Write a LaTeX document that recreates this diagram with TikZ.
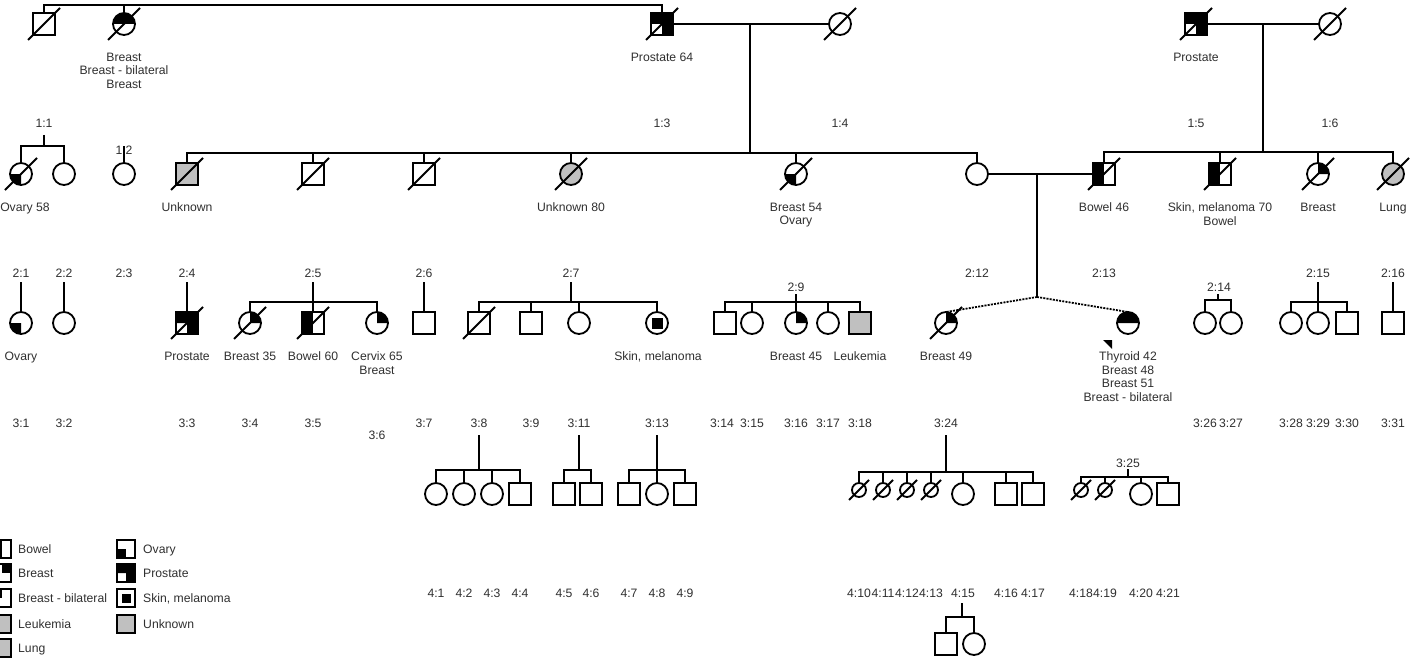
\documentclass[tikz,border=0pt]{standalone}
\usepackage{fontspec}
\setmainfont{Liberation Sans}
\definecolor{grey}{HTML}{C0C0C0}
\definecolor{txt}{HTML}{303030}
\tikzset{
  ind/.style={draw=black, line width=1.8pt, inner sep=0pt, outer sep=0pt, minimum size=22pt},
  male/.style={ind, rectangle},
  female/.style={ind, circle},
  tiny/.style={ind, circle, minimum size=14pt},
  aff/.style={fill=grey},
  ln/.style={line width=1.8pt},
  twin/.style={line width=1.8pt, dash pattern=on 2pt off 1.2pt},
  lbl/.style={font=\fontsize{12.2}{13.5}\selectfont, text=txt, align=center, inner sep=0pt},
  legbox/.style={draw=black, line width=1.8pt, inner sep=0pt, outer sep=0pt, minimum size=18pt, rectangle},
}
\newcommand\pdDec[1]{\draw[ln] ([shift={(-16,16)}]#1.center) -- ([shift={(16,-16)}]#1.center);}
\newcommand\pdDecS[1]{\draw[ln] ([shift={(-10,10)}]#1.center) -- ([shift={(10,-10)}]#1.center);}
\newcommand\pdTR[1]{\fill (#1.center) -- (#1.north) arc[start angle=90,end angle=0,radius=11pt] -- cycle;}
\newcommand\pdLL[1]{\fill (#1.center) -- (#1.west) arc[start angle=180,end angle=270,radius=11pt] -- cycle;}
\newcommand\pdTop[1]{\fill (#1.west) arc[start angle=180,end angle=0,radius=11pt] -- cycle;}
\newcommand\pdLeft[1]{\fill (#1.south west) rectangle (#1.north);}
\newcommand\pdPro[1]{\fill (#1.north west) -- (#1.north east) -- (#1.south east) -- (#1.south) -- (#1.center) -- (#1.west) -- cycle;}
\newcommand\pdLab[4]{\node[lbl,anchor=north,yshift=4.4pt] (#1) at (#2,#3) {#4};}
\newcommand\pdId[4]{\node[lbl,anchor=base,yshift=-4.4pt] (#1) at (#2,#3) {#4};}
\newcommand\pdLeg[4]{\node[lbl,anchor=base west,yshift=-4.4pt] (#1) at (#2,#3) {#4};}
\begin{document}
\begin{tikzpicture}[x=1pt,y=-1pt]
\useasboundingbox (0,0) rectangle (1411,666);
\clip (0,0) rectangle (1411,666);
\fill[white] (0,0) rectangle (1411,666);

% ---------- Generation 1
\node[male]   (a1) at (44,24) {};
\node[female] (a2) at (124,24) {};
\node[male]   (a3) at (662,24) {};
\node[female] (a4) at (840,24) {};
\node[male]   (a5) at (1196,24) {};
\node[female] (a6) at (1330,24) {};
\pdTop{a2} \pdPro{a3} \pdPro{a5}
\foreach \n in {a1,a2,a3,a4,a5,a6} {\pdDec{\n}}
\draw[ln] (a1.north) -- ++(0,-8) -| (a3.north);
\draw[ln] (a2.north) -- ++(0,-8);
\draw[ln] (a3.east) -- (a4.west);
\draw[ln] (a5.east) -- (a6.west);
\coordinate (m1) at (750,24);
\coordinate (m2) at (1263,24);
\pdLab{t1}{124}{57}{Breast\\Breast - bilateral\\Breast}
\pdLab{t2}{662}{57}{Prostate 64}
\pdLab{t3}{1196}{57}{Prostate}
\pdId{i11}{44}{123}{1:1}
\pdId{i12}{124}{150}{1:2}
\pdId{i13}{662}{123}{1:3}
\pdId{i14}{840}{123}{1:4}
\pdId{i15}{1196}{123}{1:5}
\pdId{i16}{1330}{123}{1:6}

% ---------- Generation 2
\node[female]     (b1) at (21,174) {};
\node[female]     (b2) at (64,174) {};
\node[female]     (b3) at (124,174) {};
\node[male,aff]   (b4) at (187,174) {};
\node[male]       (b5) at (313,174) {};
\node[male]       (b6) at (424,174) {};
\node[female,aff] (b7) at (571,174) {};
\node[female]     (b8) at (796,174) {};
\node[female]     (b9) at (977,174) {};
\node[male]       (b10) at (1104,174) {};
\node[male]       (b11) at (1220,174) {};
\node[female]     (b12) at (1318,174) {};
\node[female,aff] (b13) at (1393,174) {};
\pdLL{b1} \pdLL{b8} \pdLeft{b10} \pdLeft{b11} \pdTR{b12}
\foreach \n in {b1,b4,b5,b6,b7,b8,b10,b11,b12,b13} {\pdDec{\n}}
\coordinate (d11) at (44,135);
\draw[ln] (d11) -- ++(0,11);
\draw[ln] (b1.north) -- ++(0,-17) -| (b2.north);
\draw[ln] (b3.north) -- ++(0,-17);
\draw[ln] (b4.north) -- ++(0,-10) -| (b9.north);
\foreach \n in {b5,b6,b7,b8} {\draw[ln] (\n.north) -- ++(0,-10);}
\draw[ln] (m1) -- ++(0,129);
\draw[ln] (b10.north) -- ++(0,-11) -| (b13.north);
\foreach \n in {b11,b12} {\draw[ln] (\n.north) -- ++(0,-11);}
\draw[ln] (m2) -- ++(0,128);
\draw[ln] (b9.east) -- (b10.west);
\coordinate (m3) at (1037,174);
\coordinate (tw) at (1037,297);
\draw[ln] (m3) -- (tw);
\pdLab{u1}{25}{207}{Ovary 58}
\pdLab{u2}{187}{207}{Unknown}
\pdLab{u3}{571}{207}{Unknown 80}
\pdLab{u4}{796}{207}{Breast 54\\Ovary}
\pdLab{u5}{1104}{207}{Bowel 46}
\pdLab{u6}{1220}{207}{Skin, melanoma 70\\Bowel}
\pdLab{u7}{1318}{207}{Breast}
\pdLab{u8}{1393}{207}{Lung}
\pdId{i21}{21}{273}{2:1}
\pdId{i22}{64}{273}{2:2}
\pdId{i23}{124}{273}{2:3}
\pdId{i24}{187}{273}{2:4}
\pdId{i25}{313}{273}{2:5}
\pdId{i26}{424}{273}{2:6}
\pdId{i27}{571}{273}{2:7}
\pdId{i29}{796}{287}{2:9}
\pdId{i212}{977}{273}{2:12}
\pdId{i213}{1104}{273}{2:13}
\pdId{i214}{1219}{287}{2:14}
\pdId{i215}{1318}{273}{2:15}
\pdId{i216}{1393}{273}{2:16}

% ---------- Generation 3
\node[female]   (c1) at (21,323) {};
\node[female]   (c2) at (64,323) {};
\node[male]     (c3) at (187,323) {};
\node[female]   (c4) at (250,323) {};
\node[male]     (c5) at (313,323) {};
\node[female]   (c6) at (377,323) {};
\node[male]     (c7) at (424,323) {};
\node[male]     (c8) at (479,323) {};
\node[male]     (c9) at (531,323) {};
\node[female]   (c10) at (579,323) {};
\node[female]   (c11) at (657,323) {};
\node[male]     (c12) at (725,323) {};
\node[female]   (c13) at (752,323) {};
\node[female]   (c14) at (796,323) {};
\node[female]   (c15) at (828,323) {};
\node[male,aff] (c16) at (860,323) {};
\node[female]   (c17) at (946,323) {};
\node[female]   (c18) at (1128,323) {};
\node[female]   (c19) at (1205,323) {};
\node[female]   (c20) at (1231,323) {};
\node[female]   (c21) at (1291,323) {};
\node[female]   (c22) at (1318,323) {};
\node[male]     (c23) at (1347,323) {};
\node[male]     (c24) at (1393,323) {};
\pdLL{c1} \pdPro{c3} \pdTR{c4} \pdLeft{c5} \pdTR{c6} \pdTR{c14} \pdTR{c17} \pdTop{c18}
\fill ([shift={(-5.5,5.5)}]c11.center) rectangle ([shift={(5.5,-5.5)}]c11.center);
\foreach \n in {c3,c4,c5,c8,c17} {\pdDec{\n}}
\fill ([shift={(-25,17)}]c18.center) -- ([shift={(-16,17)}]c18.center) -- ([shift={(-16,26)}]c18.center) -- cycle;
\foreach \n in {c1,c2,c3,c5,c7,c22,c24} {\draw[ln] (\n.north) -- ++(0,-30);}
\draw[ln] (c4.north) -- ++(0,-10) -| (c6.north);
\draw[ln] (c8.north) -- ++(0,-10) -| (c11.north);
\foreach \n in {c9,c10} {\draw[ln] (\n.north) -- ++(0,-10);}
\coordinate (d27) at (571,282);
\draw[ln] (d27) -- ++(0,20);
\draw[ln] (c12.north) -- ++(0,-10) -| (c16.north);
\foreach \n in {c13,c15} {\draw[ln] (\n.north) -- ++(0,-10);}
\draw[ln] (c14.north) -- ++(0,-18);
\draw[ln] (c19.north) -- ++(0,-12) -| (c20.north);
\coordinate (d214) at (1218,294);
\draw[ln] (d214) -- ++(0,6);
\draw[ln] (c21.north) -- ++(0,-10) -| (c23.north);
\draw[twin] (tw) -- (c17.north);
\draw[twin] (tw) -- (c18.north);
\pdLab{v1}{21}{356}{Ovary}
\pdLab{v2}{187}{356}{Prostate}
\pdLab{v3}{250}{356}{Breast 35}
\pdLab{v4}{313}{356}{Bowel 60}
\pdLab{v5}{377}{356}{Cervix 65\\Breast}
\pdLab{v6}{658}{356}{Skin, melanoma}
\pdLab{v7}{796}{356}{Breast 45}
\pdLab{v8}{860}{356}{Leukemia}
\pdLab{v9}{946}{356}{Breast 49}
\pdLab{v10}{1128}{356}{Thyroid 42\\Breast 48\\Breast 51\\Breast - bilateral}
\pdId{i31}{21}{423}{3:1}
\pdId{i32}{64}{423}{3:2}
\pdId{i33}{187}{423}{3:3}
\pdId{i34}{250}{423}{3:4}
\pdId{i35}{313}{423}{3:5}
\pdId{i36}{377}{435}{3:6}
\pdId{i37}{424}{423}{3:7}
\pdId{i38}{479}{423}{3:8}
\pdId{i39}{531}{423}{3:9}
\pdId{i311}{579}{423}{3:11}
\pdId{i313}{657}{423}{3:13}
\pdId{i314}{722}{423}{3:14}
\pdId{i315}{752}{423}{3:15}
\pdId{i316}{796}{423}{3:16}
\pdId{i317}{828}{423}{3:17}
\pdId{i318}{860}{423}{3:18}
\pdId{i324}{946}{423}{3:24}
\pdId{i326}{1205}{423}{3:26}
\pdId{i327}{1231}{423}{3:27}
\pdId{i328}{1291}{423}{3:28}
\pdId{i329}{1318}{423}{3:29}
\pdId{i330}{1347}{423}{3:30}
\pdId{i331}{1393}{423}{3:31}
\pdId{i325}{1128}{463}{3:25}

% ---------- Generation 4
\node[female] (d1) at (436,494) {};
\node[female] (d2) at (464,494) {};
\node[female] (d3) at (492,494) {};
\node[male]   (d4) at (520,494) {};
\node[male]   (d5) at (564,494) {};
\node[male]   (d6) at (591,494) {};
\node[male]   (d7) at (629,494) {};
\node[female] (d8) at (657,494) {};
\node[male]   (d9) at (685,494) {};
\node[tiny]   (d10) at (859,490) {};
\node[tiny]   (d11) at (883,490) {};
\node[tiny]   (d12) at (907,490) {};
\node[tiny]   (d13) at (931,490) {};
\node[female] (d14) at (963,494) {};
\node[male]   (d15) at (1006,494) {};
\node[male]   (d16) at (1033,494) {};
\node[tiny]   (d17) at (1081,490) {};
\node[tiny]   (d18) at (1105,490) {};
\node[female] (d19) at (1141,494) {};
\node[male]   (d20) at (1168,494) {};
\foreach \n in {d10,d11,d12,d13,d17,d18} {\pdDecS{\n}}
\coordinate (k38) at (479,435);
\draw[ln] (k38) -- ++(0,35);
\draw[ln] (d1.north) -- ++(0,-13) -| (d4.north);
\foreach \n in {d2,d3} {\draw[ln] (\n.north) -- ++(0,-13);}
\coordinate (k311) at (579,435);
\draw[ln] (k311) -- ++(0,35);
\draw[ln] (d5.north) -- ++(0,-13) -| (d6.north);
\coordinate (k313) at (657,435);
\draw[ln] (k313) -- (d8.north);
\draw[ln] (d7.north) -- ++(0,-13) -| (d9.north);
\coordinate (k324) at (946,435);
\draw[ln] (k324) -- ++(0,37);
\draw[ln] (d10.north) -- ++(0,-11) -| (d16.north);
\foreach \n in {d11,d12,d13,d14,d15} {\draw[ln] (\n.north) -- ++(0,-11);}
\coordinate (k325) at (1128,469);
\draw[ln] (k325) -- ++(0,8);
\draw[ln] (d17.north) -- ++(0,-6) -| (d20.north);
\foreach \n in {d18,d19} {\draw[ln] (\n.north) -- ++(0,-6);}
\pdId{i41}{436}{593}{4:1}
\pdId{i42}{464}{593}{4:2}
\pdId{i43}{492}{593}{4:3}
\pdId{i44}{520}{593}{4:4}
\pdId{i45}{564}{593}{4:5}
\pdId{i46}{591}{593}{4:6}
\pdId{i47}{629}{593}{4:7}
\pdId{i48}{657}{593}{4:8}
\pdId{i49}{685}{593}{4:9}
\pdId{i410}{859}{593}{4:10}
\pdId{i411}{883}{593}{4:11}
\pdId{i412}{907}{593}{4:12}
\pdId{i413}{931}{593}{4:13}
\pdId{i415}{963}{593}{4:15}
\pdId{i416}{1006}{593}{4:16}
\pdId{i417}{1033}{593}{4:17}
\pdId{i418}{1081}{593}{4:18}
\pdId{i419}{1105}{593}{4:19}
\pdId{i420}{1141}{593}{4:20}
\pdId{i421}{1168}{593}{4:21}

% ---------- Generation 5
\node[male]   (e1) at (946,644) {};
\node[female] (e2) at (974,644) {};
\coordinate (k415) at (962,603);
\draw[ln] (k415) -- ++(0,14);
\draw[ln] (e1.north) -- ++(0,-16) -| (e2.north);

% ---------- Legend
\node[legbox] (L1) at (2,549) {};
\node[legbox] (L2) at (2,573) {};
\node[legbox] (L3) at (2,598) {};
\node[legbox,fill=grey] (L4) at (2,624) {};
\node[legbox,fill=grey] (L5) at (2,648) {};
\node[legbox] (R1) at (126,549) {};
\node[legbox] (R2) at (126,573) {};
\node[legbox] (R3) at (126,598) {};
\node[legbox,fill=grey] (R4) at (126,624) {};
\fill (L1.south west) rectangle (L1.north);
\fill (L2.center) rectangle (L2.north east);
\fill (L3.center) rectangle (L3.north west);
\fill (R1.center) rectangle (R1.south west);
\pdPro{R2}
\fill ([shift={(-4.5,4.5)}]R3.center) rectangle ([shift={(4.5,-4.5)}]R3.center);
\pdLeg{g1}{18}{549}{Bowel}
\pdLeg{g2}{18}{573}{Breast}
\pdLeg{g3}{18}{598}{Breast - bilateral}
\pdLeg{g4}{18}{624}{Leukemia}
\pdLeg{g5}{18}{648}{Lung}
\pdLeg{h1}{143}{549}{Ovary}
\pdLeg{h2}{143}{573}{Prostate}
\pdLeg{h3}{143}{598}{Skin, melanoma}
\pdLeg{h4}{143}{624}{Unknown}
\end{tikzpicture}
\end{document}
